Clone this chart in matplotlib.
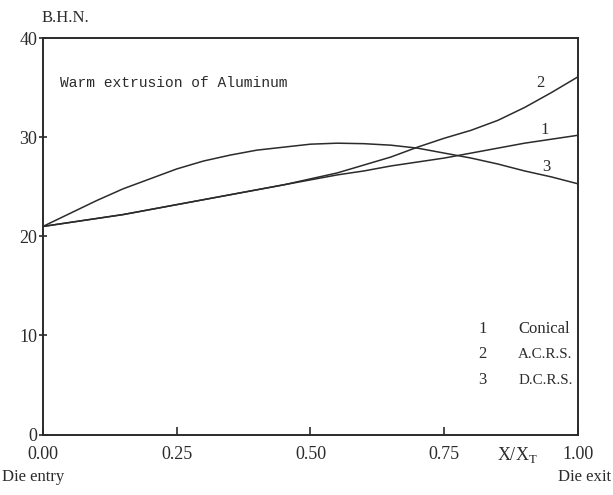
import matplotlib
matplotlib.use("Agg")
import matplotlib.pyplot as plt

# ── data ─────────────────────────────────────────────────────────────────────
x_pos = [0.00, 0.05, 0.10, 0.15, 0.20, 0.25, 0.30, 0.35, 0.40, 0.45, 0.50,
         0.55, 0.60, 0.65, 0.70, 0.75, 0.80, 0.85, 0.90, 0.95, 1.00]
bhn_conical = [21.0, 21.4, 21.8, 22.2, 22.7, 23.2, 23.7, 24.2, 24.7, 25.2, 25.7,
               26.2, 26.6, 27.1, 27.5, 27.9, 28.4, 28.9, 29.4, 29.8, 30.2]
bhn_acrs    = [21.0, 21.4, 21.8, 22.2, 22.7, 23.2, 23.7, 24.2, 24.7, 25.2, 25.8,
               26.4, 27.2, 28.0, 29.0, 29.9, 30.7, 31.7, 33.0, 34.5, 36.1]
bhn_dcrs    = [21.0, 22.3, 23.6, 24.8, 25.8, 26.8, 27.6, 28.2, 28.7, 29.0, 29.3,
               29.4, 29.35, 29.2, 28.9, 28.4, 27.9, 27.3, 26.6, 26.0, 25.3]

curve_ids   = ["1", "2", "3"]
curve_names = ["Conical", "A.C.R.S.", "D.C.R.S."]
x_ticks = [0.00, 0.25, 0.50, 0.75, 1.00]
x_tick_labels = ["0.00", "0.25", "0.50", "0.75", "1.00"]
y_ticks = [0, 10, 20, 30, 40]

INK = "#2b2b2b"
SERIF = "Liberation Serif"
MONO = "Liberation Mono"

fig = plt.figure(figsize=(6.13, 4.95), dpi=100)
ax = fig.add_axes([0.070, 0.122, 0.873, 0.801])

for ys in (bhn_conical, bhn_acrs, bhn_dcrs):
    ax.plot(x_pos, ys, color=INK, lw=1.1)

ax.set_xlim(0, 1)
ax.set_ylim(0, 40)
ax.set_xticks(x_ticks)
ax.set_xticklabels(x_tick_labels)
ax.set_yticks(y_ticks)
for sp in ax.spines.values():
    sp.set_color(INK)
    sp.set_linewidth(1.4)
ax.tick_params(axis="x", direction="in", length=6, width=1.2, color=INK, pad=8,
               labelsize=13, labelcolor=INK)
ax.tick_params(axis="y", direction="inout", length=6, width=1.2, color=INK, pad=1,
               labelsize=13, labelcolor=INK)
for lab in ax.get_xticklabels() + ax.get_yticklabels():
    lab.set_family(SERIF)

# curve numbers near the right edge
ax.text(0.93, 35.5, "2", fontsize=12, family=SERIF, color=INK, ha="center", va="center")
ax.text(0.937, 30.7, "1", fontsize=12, family=SERIF, color=INK, ha="center", va="center")
ax.text(0.94, 27.0, "3", fontsize=12, family=SERIF, color=INK, ha="center", va="center")

ax.text(0.032, 35.5, "Warm extrusion of Aluminum", fontsize=10.5, family=MONO,
        color=INK, ha="left", va="center")

# key
for i, (cid, name) in enumerate(zip(curve_ids, curve_names)):
    yk = 10.7 - 2.6 * i
    ax.text(0.822, yk, cid, fontsize=12, family=SERIF, color=INK, ha="center", va="center")
    ax.text(0.888, yk, name, fontsize=12 if i == 0 else 10.8, family=SERIF, color=INK,
            ha="left", va="center")

fig.text(42 / 613, 1 - 18 / 495, "B.H.N.", fontsize=12, family=SERIF, color=INK,
         ha="left", va="center")
fig.text(497 / 613, 1 - 455 / 495, "X/X$_\\mathregular{T}$", fontsize=13, family=SERIF,
         color=INK, ha="left", va="center")
fig.text(2 / 613, 1 - 477 / 495, "Die entry", fontsize=12, family=SERIF, color=INK,
         ha="left", va="center")
fig.text(611 / 613, 1 - 477 / 495, "Die exit", fontsize=12, family=SERIF, color=INK,
         ha="right", va="center")

fig.savefig("out.png", dpi=100)
